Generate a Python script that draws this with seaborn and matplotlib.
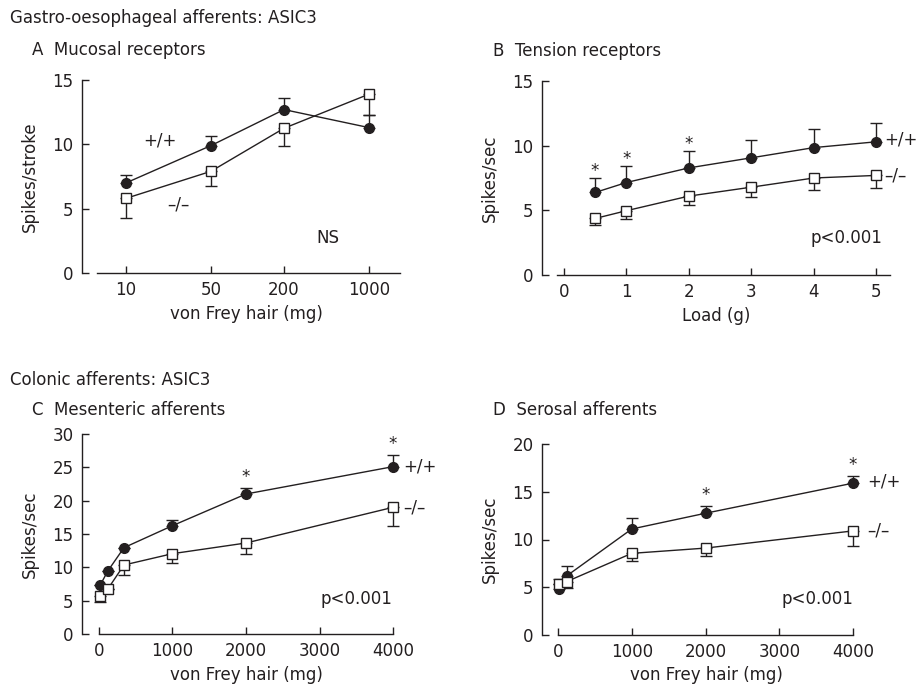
import matplotlib
matplotlib.use("Agg")
import matplotlib.pyplot as plt
import numpy as np
import pandas as pd
import seaborn as sns

# ---- data ----
# A  Mucosal receptors (spikes/stroke vs von Frey hair, log axis)
a_x = [10, 50, 200, 1000]
a_wt = [7.0, 9.9, 12.7, 11.3]
a_wt_err = [0.6, 0.75, 0.9, 1.0]
a_ko = [5.8, 7.9, 11.25, 13.9]
a_ko_err = [1.5, 1.1, 1.35, 1.6]

# B  Tension receptors (spikes/sec vs load)
b_x = [0.5, 1, 2, 3, 4, 5]
b_wt = [6.38, 7.15, 8.28, 9.06, 9.85, 10.3]
b_wt_err = [1.1, 1.25, 1.3, 1.35, 1.4, 1.45]
b_ko = [4.37, 4.97, 6.1, 6.79, 7.5, 7.7]
b_ko_err = [0.5, 0.65, 0.7, 0.75, 0.9, 0.95]
b_star = [0.5, 1, 2]

# C  Mesenteric afferents
c_x = [20, 120, 340, 1000, 2000, 4000]
c_wt = [7.4, 9.45, 12.95, 16.25, 21.0, 25.1]
c_wt_err = [0.0, 0.0, 0.0, 0.8, 0.9, 1.75]
c_ko = [5.75, 6.75, 10.35, 12.05, 13.65, 19.0]
c_ko_err = [1.0, 0.0, 1.5, 1.4, 1.7, 2.75]
c_star = [2000, 4000]

# D  Serosal afferents
d_x = [20, 120, 1000, 2000, 4000]
d_wt = [4.8, 6.2, 11.1, 12.75, 15.9]
d_wt_err = [1.05, 1.05, 1.1, 0.8, 0.8]
d_ko = [5.35, 5.6, 8.55, 9.1, 10.9]
d_ko_err = [0.0, 0.7, 0.8, 0.8, 1.55]
d_star = [2000, 4000]

INK = "#231f20"
FS = 12

sns.set_style("ticks")
plt.rcParams["font.family"] = ["DejaVu Sans"]
plt.rcParams["text.color"] = INK
plt.rcParams["axes.labelcolor"] = INK
plt.rcParams["xtick.color"] = INK
plt.rcParams["ytick.color"] = INK
plt.rcParams["axes.edgecolor"] = INK

fig = plt.figure(figsize=(9.17, 6.89), dpi=100)

W, H = 917, 689


def make_ax(l, t, r, b):
    return fig.add_axes([l / W, (H - b) / H, (r - l) / W, (b - t) / H])


def draw_series(ax, x, y, err, up, marker, face):
    df = pd.DataFrame({"x": x, "y": y})
    err = np.array(err)
    yerr = [np.zeros_like(err), err] if up else [err, np.zeros_like(err)]
    ax.errorbar(x, y, yerr=yerr, fmt="none", ecolor=INK, elinewidth=1.0,
                capsize=4.5, capthick=1.0, zorder=2)
    sns.lineplot(data=df, x="x", y="y", ax=ax, color=INK, linewidth=1.0,
                 marker=marker, markersize=7 if marker == "o" else 6.5,
                 markerfacecolor=face, markeredgecolor=INK,
                 markeredgewidth=1.0, zorder=3, estimator=None, sort=False)


def style_ax(ax, xlim, xbounds, ylim, yticks, xticks, xlabel, ylabel,
             ylx, xly):
    ax.set_xlim(*xlim)
    ax.set_ylim(*ylim)
    ax.set_yticks(yticks)
    ax.set_xticks(xticks)
    ax.set_xticklabels([str(t) for t in xticks])
    ax.minorticks_off()
    for s in ["top", "right"]:
        ax.spines[s].set_visible(False)
    ax.spines["bottom"].set_bounds(*xbounds)
    ax.spines["left"].set_bounds(*ylim)
    for s in ["bottom", "left"]:
        ax.spines[s].set_linewidth(1.0)
    ax.tick_params(direction="in", length=5, width=1.0, labelsize=FS, pad=6)
    ax.set_xlabel(xlabel, fontsize=FS)
    ax.set_ylabel(ylabel, fontsize=FS)
    ax.yaxis.set_label_coords(ylx, 0.5)
    ax.xaxis.set_label_coords(0.5, xly)


# ---- Panel A ----
axA = make_ax(82, 80, 410, 273)
axA.set_xscale("log")
draw_series(axA, a_x, a_wt, a_wt_err, True, "o", INK)
draw_series(axA, a_x, a_ko, a_ko_err, False, "s", "white")
style_ax(axA, (4.35, 2175), (5.8, 1800), (0, 15), [0, 5, 10, 15], a_x,
         "von Frey hair (mg)", "Spikes/stroke", -0.131, -0.166)
axA.text(19, 10.3, "+/+", fontsize=FS, ha="center", va="center")
axA.text(27, 5.3, "\u2013/\u2013", fontsize=FS, ha="center", va="center")
axA.text(457, 2.7, "NS", fontsize=FS, ha="center", va="center")

# ---- Panel B ----
axB = make_ax(542, 81, 890, 275)
draw_series(axB, b_x, b_wt, b_wt_err, True, "o", INK)
draw_series(axB, b_x, b_ko, b_ko_err, False, "s", "white")
style_ax(axB, (-0.35, 5.22), (-0.11, 5.22), (0, 15), [0, 5, 10, 15],
         [0, 1, 2, 3, 4, 5], "Load (g)", "Spikes/sec", -0.124, -0.165)
for xs in b_star:
    i = b_x.index(xs)
    axB.text(xs, b_wt[i] + b_wt_err[i] + 0.55, "*", fontsize=FS,
             ha="center", va="center")
axB.text(5.13, b_wt[-1] + 0.2, "+/+", fontsize=FS, ha="left", va="center",
         clip_on=False)
axB.text(5.13, b_ko[-1], "\u2013/\u2013", fontsize=FS, ha="left",
         va="center", clip_on=False)
axB.text(4.53, 2.83, "p<0.001", fontsize=FS, ha="center", va="center")

# ---- Panel C ----
axC = make_ax(82, 434, 410, 634)
draw_series(axC, c_x, c_wt, c_wt_err, True, "o", INK)
draw_series(axC, c_x, c_ko, c_ko_err, False, "s", "white")
style_ax(axC, (-231, 4231), (0, 4000), (0, 30), [0, 5, 10, 15, 20, 25, 30],
         [0, 1000, 2000, 3000, 4000], "von Frey hair (mg)", "Spikes/sec",
         -0.131, -0.16)
for xs in c_star:
    i = c_x.index(xs)
    axC.text(xs, c_wt[i] + c_wt_err[i] + 1.6, "*", fontsize=FS,
             ha="center", va="center")
axC.text(4140, c_wt[-1], "+/+", fontsize=FS, ha="left", va="center",
         clip_on=False)
axC.text(4140, c_ko[-1], "\u2013/\u2013", fontsize=FS, ha="left",
         va="center", clip_on=False)
axC.text(3509, 5.25, "p<0.001", fontsize=FS, ha="center", va="center")

# ---- Panel D ----
axD = make_ax(542, 444, 870, 635)
draw_series(axD, d_x, d_wt, d_wt_err, True, "o", INK)
draw_series(axD, d_x, d_ko, d_ko_err, False, "s", "white")
style_ax(axD, (-217, 4230), (0, 4000), (0, 20), [0, 5, 10, 15, 20],
         [0, 1000, 2000, 3000, 4000], "von Frey hair (mg)", "Spikes/sec",
         -0.131, -0.162)
for xs in d_star:
    i = d_x.index(xs)
    axD.text(xs, d_wt[i] + d_wt_err[i] + 1.1, "*", fontsize=FS,
             ha="center", va="center")
axD.text(4190, d_wt[-1] + 0.2, "+/+", fontsize=FS, ha="left", va="center",
         clip_on=False)
axD.text(4190, d_ko[-1], "\u2013/\u2013", fontsize=FS, ha="left",
         va="center", clip_on=False)
axD.text(3518, 3.74, "p<0.001", fontsize=FS, ha="center", va="center")

# ---- headers ----
fig.text(10 / W, 1 - 23 / H, "Gastro-oesophageal afferents: ASIC3",
         fontsize=FS, va="baseline")
fig.text(32 / W, 1 - 55 / H, "A  Mucosal receptors", fontsize=FS,
         va="baseline")
fig.text(493 / W, 1 - 56 / H, "B  Tension receptors", fontsize=FS,
         va="baseline")
fig.text(10 / W, 1 - 385 / H, "Colonic afferents: ASIC3", fontsize=FS,
         va="baseline")
fig.text(32 / W, 1 - 415 / H, "C  Mesenteric afferents", fontsize=FS,
         va="baseline")
fig.text(493 / W, 1 - 415 / H, "D  Serosal afferents", fontsize=FS,
         va="baseline")

fig.savefig("out.png", dpi=100)
